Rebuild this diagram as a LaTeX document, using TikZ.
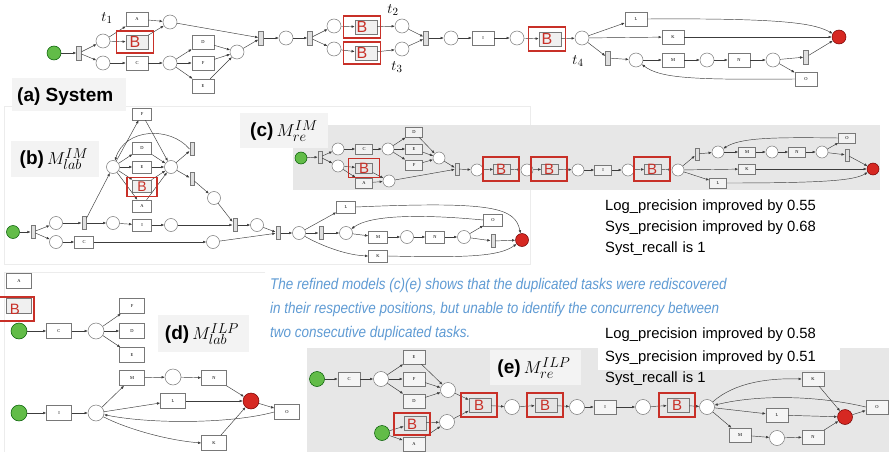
\documentclass[tikz,border=0pt]{standalone}
\usepackage{fontspec}
\newfontfamily\arial{Liberation Sans}
\newfontfamily\narrowsans[FakeStretch=0.87]{Liberation Sans}
\newfontfamily\tnr{Liberation Serif}
\usetikzlibrary{arrows.meta}
\definecolor{dupred}{RGB}{200,48,40}
\definecolor{startgreen}{RGB}{98,188,72}
\definecolor{endred}{RGB}{214,40,34}
\definecolor{linec}{RGB}{60,60,60}
\definecolor{boxc}{RGB}{120,120,120}
\definecolor{panelgray}{RGB}{231,231,231}
\definecolor{tagbg}{RGB}{243,243,243}
\definecolor{noteblue}{RGB}{95,155,212}
\definecolor{framec}{RGB}{236,236,236}
\colorlet{boxfill}{white}
\tikzset{
  pl/.style={circle, draw=boxc, fill=white, inner sep=0pt, minimum size=\pd, line width=0.5pt},
  src/.style={circle, draw=green!35!black, fill=startgreen, inner sep=0pt, minimum size=\pd, line width=0.5pt},
  snk/.style={circle, draw=red!45!black, fill=endred, inner sep=0pt, minimum size=\pd, line width=0.5pt},
  tr/.style={rectangle, draw=boxc, fill=boxfill, inner sep=0pt, minimum width=\bw, minimum height=\bh,
    font=\tnr\fontsize{4.5}{5}\selectfont, line width=0.5pt},
  tbar/.style={rectangle, draw=boxc, fill=gray!25, inner sep=0pt, minimum width=\tw, minimum height=\th, line width=0.5pt},
  dup/.style 2 args={rectangle, draw=dupred, line width=1.5pt, inner sep=0pt, minimum width=#1, minimum height=#2,
    text=dupred, font=\arial\fontsize{\bsz}{\bsz}\selectfont},
  arr/.style={draw=linec, line width=0.45pt, -{Latex[length=3.2pt,width=2.6pt]}},
  tagtext/.style={font=\arial\bfseries\fontsize{19}{22}\selectfont, inner sep=0pt},
  stat/.style={font=\arial\fontsize{14.8}{17}\selectfont, anchor=west, inner sep=0pt},
  note/.style={font=\narrowsans\itshape\fontsize{15.5}{18}\selectfont, text=noteblue, anchor=west, inner sep=0pt},
  tlab/.style={font=\fontsize{15}{15}\selectfont, inner sep=0pt}
}
\begin{document}
\begin{tikzpicture}[x=1pt,y=-1pt]
\useasboundingbox[fill=white] (0,0) rectangle (889,452);

% panel frames and shaded backgrounds
\draw[framec, line width=0.8pt] (4,106) rectangle (530,264);
\draw[framec, line width=0.8pt] (265,272) -- (4,272) -- (4,452);
\fill[panelgray] (293,125) rectangle (880,190);
\fill[panelgray] (307,348) rectangle (889,452);
\fill[white] (598,322) rectangle (840,370);

% ---------------- (a) System ----------------
\begin{scope}
\def\bw{22pt}\def\bh{14pt}\def\pd{14pt}\def\tw{5pt}\def\th{14pt}\def\bsz{16}
\node[src] (aS) at (54,53) {};
\node[tbar] (aT1) at (79,53) {};
\node[pl] (aP1) at (103,41) {};
\node[pl] (aP2) at (103,63) {};
\node[tr] (aA) at (137,19) {A};
\node[tr, fill=gray!12] (aB1) at (137,42) {};
\node[tr] (aC) at (137,63) {C};
\node[pl] (aP3) at (170,22) {};
\node[pl] (aP4) at (170,63) {};
\node[tr] (aD) at (203,42) {D};
\node[tr] (aF) at (203,63) {F};
\node[tr] (aE) at (203,86) {E};
\node[pl] (aP5) at (237,52) {};
\node[tbar] (aT2) at (261,38) {};
\node[pl] (aP6) at (286,38) {};
\node[tbar] (aT3) at (310,38) {};
\node[pl] (aP7) at (334,26) {};
\node[pl] (aP8) at (334,49) {};
\node[tr, fill=gray!12] (aB2) at (366,27) {};
\node[tr, fill=gray!12] (aB3) at (366,53) {};
\node[pl] (aP9) at (402,26) {};
\node[pl] (aP10) at (402,49) {};
\node[tbar] (aT4) at (426,38) {};
\node[pl] (aP11) at (451,38) {};
\node[tr] (aI) at (483,38) {I};
\node[pl] (aP12) at (517,38) {};
\node[tr, fill=gray!12] (aB4) at (550,39) {};
\node[pl] (aP13) at (582,38) {};
\node[tr] (aL) at (636,19) {L};
\node[tr] (aK) at (673,37) {K};
\node[tbar] (aT5) at (608,58) {};
\node[pl] (aP14) at (636,60) {};
\node[tr] (aM) at (673,60) {M};
\node[pl] (aP15) at (707,60) {};
\node[tr] (aN) at (739,60) {N};
\node[pl] (aP16) at (773,60) {};
\node[tbar] (aT6) at (806,57) {};
\node[tr] (aO) at (806,79) {O};
\node[snk] (aEnd) at (839,37) {};
\foreach \u/\v in {aS/aT1, aT1/aP1, aT1/aP2, aP1/aA, aP1/aB1, aP2/aC, aA/aP3, aB1/aP3, aC/aP4,
  aP4/aD, aP4/aF, aP4/aE, aD/aP5, aF/aP5, aE/aP5, aP3/aT2, aP5/aT2, aT2/aP6, aP6/aT3,
  aT3/aP7, aT3/aP8, aP7/aB2, aP8/aB3, aB2/aP9, aB3/aP10, aP9/aT4, aP10/aT4, aT4/aP11,
  aP11/aI, aI/aP12, aP12/aB4, aB4/aP13, aP13/aL, aP13/aK, aP13/aT5, aT5/aP14, aP14/aM,
  aM/aP15, aP15/aN, aN/aP16, aP16/aT6, aP16/aO, aT6/aEnd, aK/aEnd}
  \draw[arr] (\u) -- (\v);
\draw[arr] (aL.east) .. controls (790,18) and (815,24) .. (aEnd);
\draw[arr] (aO.west) .. controls (690,80) and (660,78) .. (aP14);
\node[dup={37pt}{22pt}] (aB1f) at (135,42) {B};
\node[dup={37pt}{22pt}] (aB2f) at (362,27) {B};
\node[dup={37pt}{22pt}] (aB3f) at (362,53) {B};
\node[dup={37pt}{24pt}] (aB4f) at (547,39) {B};
\node[tlab] (t1) at (107,18) {$t_1$};
\node[tlab] (t2) at (393,10) {$t_2$};
\node[tlab] (t3) at (397,67) {$t_3$};
\node[tlab] (t4) at (578,61) {$t_4$};
\fill[tagbg] (12,78) rectangle (126,111);
\node[tagtext, anchor=west] (aTag) at (17,97) {(a) System};
\end{scope}

% ---------------- (b) ----------------
\begin{scope}
\def\bw{19pt}\def\bh{12pt}\def\pd{13pt}\def\tw{4.5pt}\def\th{13pt}\def\bsz{14}
\node[src] (bS) at (13,232) {};
\node[tbar] (bT1) at (33,232) {};
\node[pl] (bP1) at (56,223) {};
\node[pl] (bP2) at (56,242) {};
\node[tbar] (bT2) at (84,223) {};
\node[pl] (bP3) at (113,223) {};
\node[tr] (bI) at (142,225) {I};
\node[pl] (bP4) at (171,225) {};
\node[tr] (bC) at (84,242) {C};
\node[pl] (bP5) at (213,242) {};
\node[tbar] (bT3) at (235,225) {};
\node[pl] (bP6) at (257,225) {};
\node[tbar] (bT4) at (278,233) {};
\node[pl] (bP7) at (113,167) {};
\node[tr] (bF) at (142,114) {F};
\node[tr] (bD) at (142,148) {D};
\node[tr] (bE) at (142,167) {E};
\node[tr, fill=gray!12] (bB) at (142,186) {};
\node[tr] (bA) at (142,206) {A};
\node[pl] (bP8) at (171,167) {};
\node[tbar] (bT5) at (192,149) {};
\node[tbar] (bT6) at (192,179) {};
\node[pl] (bP9) at (214,198) {};
\node[pl] (bP10) at (299,233) {};
\node[tbar] (bT7) at (321,233) {};
\node[pl] (bP11) at (346,233) {};
\node[tr] (bL) at (346,207) {L};
\node[tr] (bM) at (378,237) {M};
\node[pl] (bP12) at (407,237) {};
\node[tr] (bN) at (435,237) {N};
\node[pl] (bP13) at (464,237) {};
\node[tr] (bO) at (493,220) {O};
\node[tbar] (bT8) at (493,241) {};
\node[snk] (bEnd) at (522,240) {};
\node[tr] (bK) at (378,256) {K};
\foreach \u/\v in {bS/bT1, bT1/bP1, bT1/bP2, bP1/bT2, bT2/bP3, bT2/bP7, bP3/bI, bI/bP4, bP4/bT3,
  bP2/bC, bC/bP5, bP5/bT4, bT3/bP6, bP6/bT4, bP7/bF, bP7/bD, bP7/bE, bP7/bB, bP7/bA,
  bF/bP8, bD/bP8, bE/bP8, bB/bP8, bA/bP8, bP8/bT5, bP8/bT6, bT6/bP9, bP9/bT3,
  bT4/bP10, bP10/bT7, bP10/bL, bT7/bP11, bP11/bM, bM/bP12, bP12/bN, bN/bP13, bP13/bO,
  bP13/bT8, bT8/bEnd}
  \draw[arr] (\u) -- (\v);
\draw[arr] (bT5.west) .. controls (170,126) and (125,128) .. (bP7);
\draw[arr] (bP10) .. controls (320,245) and (345,255) .. (bK.west);
\draw[arr] (bL.east) .. controls (495,201) and (515,208) .. (bEnd);
\draw[arr] (bK.east) .. controls (470,258) and (500,256) .. (bEnd);
\draw[arr] (bO.west) .. controls (420,214) and (370,215) .. (bP11);
\node[dup={30pt}{19pt}] (bBf) at (142,187) {B};
\fill[tagbg] (11,141) rectangle (99,177);
\node[tagtext] (bTag) at (54,159) {(b)\,$M^{IM}_{lab}$};
\end{scope}

% ---------------- (c) ----------------
\begin{scope}
\def\bw{17pt}\def\bh{10.5pt}\def\pd{12pt}\def\tw{4pt}\def\th{12pt}\def\bsz{15}
\colorlet{boxfill}{gray!10}
\node[src] (cS) at (301,158) {};
\node[tbar] (cT1) at (320,157) {};
\node[pl] (cP1) at (338,149) {};
\node[pl] (cP2) at (338,166) {};
\node[tr] (cC) at (364,149) {C};
\node[pl] (cP3) at (388,149) {};
\node[tr] (cD) at (414,132) {D};
\node[tr] (cE) at (414,149) {E};
\node[tr] (cF) at (414,165) {F};
\node[pl] (cP4) at (439,158) {};
\node[tr, fill=gray!20] (cB1) at (364,168) {};
\node[tr] (cA) at (364,183) {A};
\node[pl] (cP5) at (389,181) {};
\node[tbar] (cT2) at (457,169) {};
\node[pl] (cP6) at (477,170) {};
\node[tr, fill=gray!20] (cB2) at (502,169) {};
\node[pl] (cP7) at (527,170) {};
\node[tr, fill=gray!20] (cB3) at (550,169) {};
\node[pl] (cP8) at (578,170) {};
\node[tr] (cI) at (603,170) {I};
\node[pl] (cP9) at (628,170) {};
\node[tr, fill=gray!20] (cB4) at (653,169) {};
\node[pl] (cP10) at (678,170) {};
\node[tbar] (cT3) at (697,154) {};
\node[pl] (cP11) at (718,152) {};
\node[tr] (cM) at (747,152) {M};
\node[pl] (cP12) at (772,152) {};
\node[tr] (cN) at (797,152) {N};
\node[pl] (cP13) at (822,152) {};
\node[tr] (cO) at (847,138) {O};
\node[tbar] (cT4) at (847,155) {};
\node[snk] (cEnd) at (873,169) {};
\node[tr] (cK) at (747,169) {K};
\node[tr] (cL) at (718,183) {L};
\foreach \u/\v in {cS/cT1, cT1/cP1, cT1/cP2, cP1/cC, cC/cP3, cP3/cD, cP3/cE, cP3/cF, cD/cP4, cE/cP4,
  cF/cP4, cP4/cT2, cP2/cB1, cP2/cA, cB1/cP5, cA/cP5, cP5/cT2, cT2/cP6, cP6/cB2, cB2/cP7,
  cP7/cB3, cB3/cP8, cP8/cI, cI/cP9, cP9/cB4, cB4/cP10, cP10/cT3, cP10/cK, cP10/cL,
  cT3/cP11, cP11/cM, cM/cP12, cP12/cN, cN/cP13, cP13/cO, cP13/cT4, cT4/cEnd, cK/cEnd}
  \draw[arr] (\u) -- (\v);
\draw[arr] (cL.east) .. controls (830,183) and (855,180) .. (cEnd);
\draw[arr] (cO.west) .. controls (770,137) and (740,138) .. (cP11);
\node[dup={31pt}{19pt}] (cB1f) at (364,168) {B};
\node[dup={36pt}{24pt}] (cB2f) at (501,169) {B};
\node[dup={36pt}{24pt}] (cB3f) at (549,169) {B};
\node[dup={36pt}{24pt}] (cB4f) at (652,169) {B};
\fill[tagbg] (240,113) rectangle (328,148);
\node[tagtext] (cTag) at (284,131) {(c)\,$M^{IM}_{re}$};
\end{scope}

\node[stat] (s1) at (605,207) {Log\_precision\hspace{5pt}improved by 0.55};
\node[stat] (s2) at (605,228) {Sys\_precision\hspace{5pt}improved by 0.68};
\node[stat] (s3) at (605,249) {Syst\_recall\hspace{5pt}is 1};

\node[note] (n1) at (270,285) {The refined models (c)(e) shows that the duplicated tasks were rediscovered};
\node[note] (n2) at (270,309) {in their respective positions, but unable to identify the concurrency between};
\node[note] (n3) at (270,333) {two consecutive duplicated tasks.};

% ---------------- (d) ----------------
\begin{scope}
\def\bw{25pt}\def\bh{15pt}\def\pd{16pt}\def\tw{5pt}\def\th{14pt}\def\bsz{15}
\node[tr] (dA) at (19,281) {A};
\node[tr, fill=gray!12] (dB) at (19,306) {};
\node[src] (dS1) at (19,331) {};
\node[tr] (dC) at (59,331) {C};
\node[pl] (dP1) at (96,331) {};
\node[tr] (dF) at (132,306) {F};
\node[tr] (dD) at (132,331) {D};
\node[tr] (dE) at (132,355) {E};
\node[src] (dS2) at (19,413) {};
\node[tr] (dI) at (59,413) {I};
\node[pl] (dP2) at (96,413) {};
\node[tr] (dM) at (132,378) {M};
\node[pl] (dP3) at (173,377) {};
\node[tr] (dN) at (214,378) {N};
\node[tr] (dL) at (173,401) {L};
\node[snk] (dEnd) at (251,401) {};
\node[tr] (dO) at (287,412) {O};
\node[tr] (dK) at (214,443) {K};
\foreach \u/\v in {dS1/dC, dC/dP1, dP1/dF, dP1/dD, dP1/dE, dS2/dI, dI/dP2, dP2/dM, dP2/dL,
  dM/dP3, dP3/dN, dN/dEnd, dL/dEnd, dK/dEnd, dEnd/dO}
  \draw[arr] (\u) -- (\v);
\draw[arr] (dP2) .. controls (125,428) and (165,440) .. (dK.west);
\draw[arr] (dO.west) .. controls (230,424) and (150,424) .. (dP2);
\node[dup={38pt}{24pt}] (dBf) at (15,309) {B};
\fill[tagbg] (158,315) rectangle (249,352);
\node[tagtext] (dTag) at (202,334) {(d)\,$M^{ILP}_{lab}$};
\end{scope}

% ---------------- (e) ----------------
\begin{scope}
\def\bw{22pt}\def\bh{14pt}\def\pd{15pt}\def\tw{5pt}\def\th{14pt}\def\bsz{15}
\colorlet{boxfill}{gray!8}
\node[src] (eS1) at (317,379) {};
\node[tr] (eC) at (349,379) {C};
\node[pl] (eP1) at (381,379) {};
\node[tr] (eE) at (414,357) {E};
\node[tr] (eF) at (414,379) {F};
\node[tr] (eD) at (414,401) {D};
\node[pl] (eP2) at (448,390) {};
\node[src] (eS2) at (382,433) {};
\node[tr, fill=gray!20] (eB1) at (415,423) {};
\node[tr] (eA) at (414,444) {A};
\node[pl] (eP3) at (447,422) {};
\node[tr, fill=gray!20] (eB2) at (480,405) {};
\node[pl] (eP4) at (512,407) {};
\node[tr, fill=gray!20] (eB3) at (546,405) {};
\node[pl] (eP5) at (577,407) {};
\node[tr] (eI) at (605,407) {I};
\node[pl] (eP6) at (643,407) {};
\node[tr, fill=gray!20] (eB4) at (678,405) {};
\node[pl] (eP7) at (707,407) {};
\node[tr] (eK) at (813,379) {K};
\node[tr] (eL) at (777,415) {L};
\node[tr] (eM) at (740,435) {M};
\node[pl] (eP8) at (777,438) {};
\node[tr] (eN) at (813,437) {N};
\node[snk] (eEnd) at (845,417) {};
\node[tr] (eO) at (877,407) {O};
\foreach \u/\v in {eS1/eC, eC/eP1, eP1/eE, eP1/eF, eP1/eD, eE/eP2, eF/eP2, eD/eP2, eP2/eB2,
  eS2/eB1, eS2/eA, eB1/eP3, eA/eP3, eP3/eB2, eB2/eP4, eP4/eB3, eB3/eP5, eP5/eI, eI/eP6,
  eP6/eB4, eB4/eP7, eP7/eL, eP7/eM, eM/eP8, eP8/eN, eN/eEnd, eL/eEnd, eK/eEnd, eEnd/eO}
  \draw[arr] (\u) -- (\v);
\draw[arr] (eP7) .. controls (735,382) and (770,378) .. (eK.west);
\draw[arr] (eO.west) .. controls (820,396) and (760,394) .. (eP7);
\node[dup={36pt}{22pt}] (eB1f) at (412,424) {B};
\node[dup={36pt}{24pt}] (eB2f) at (479,405) {B};
\node[dup={36pt}{24pt}] (eB3f) at (545,405) {B};
\node[dup={36pt}{24pt}] (eB4f) at (677,405) {B};
\fill[tagbg] (490,350) rectangle (581,385);
\node[tagtext] (eTag) at (534,368) {(e)\,$M^{ILP}_{re}$};
\end{scope}

\node[stat] (s4) at (605,335) {Log\_precision\hspace{5pt}improved by 0.58};
\node[stat] (s5) at (605,358) {Sys\_precision\hspace{5pt}improved by 0.51};
\node[stat] (s6) at (605,379) {Syst\_recall\hspace{5pt}is 1};
\end{tikzpicture}
\end{document}
